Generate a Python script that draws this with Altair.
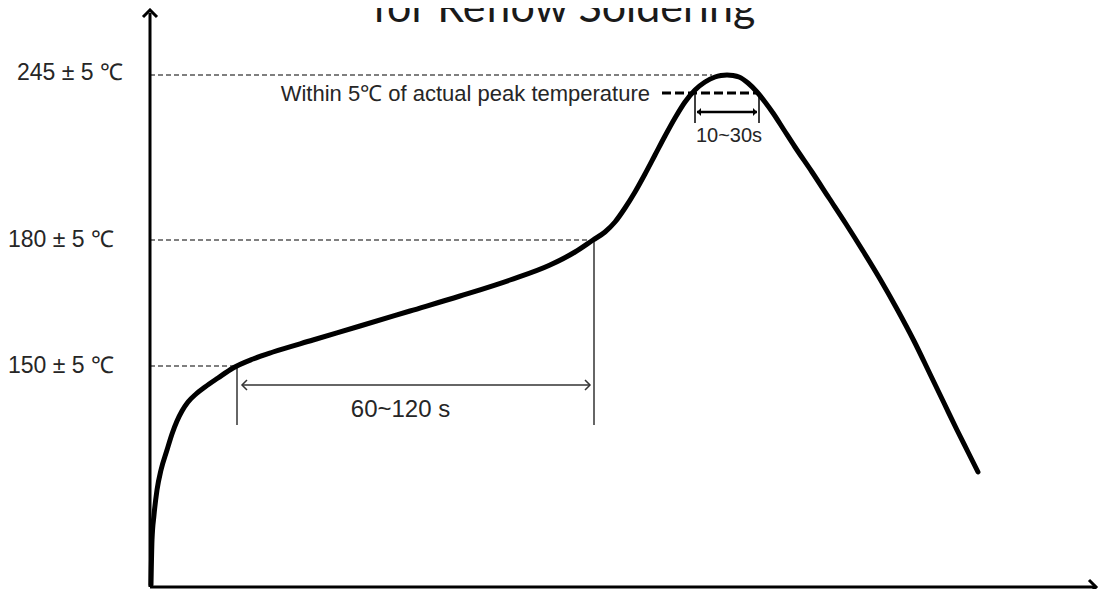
import altair as alt
import pandas as pd

# ---- data (time units from origin, temperature-level units above the x-axis) ----
curve_t = [1, 2, 4, 7, 11, 17, 22, 27, 32, 38, 46, 55, 68, 83, 103, 123, 163, 210, 260, 310,
           360, 400, 425, 443, 455, 465, 475, 485, 495, 505, 515, 525, 535, 545, 555, 565, 571, 577,
           583, 589, 598, 607, 615, 623, 634, 645, 662, 679, 696, 713, 730, 747, 764, 780, 794, 807,
           818, 828]
curve_v = [2, 47, 72, 97, 117, 137, 153, 166, 176, 185, 193, 200, 209, 219, 228, 235, 247, 261, 276, 291,
           307, 322, 335, 347, 355, 365, 379, 395, 413, 432, 451, 469, 485, 497, 505, 510, 511.5, 512,
           511.5, 510, 504, 495, 485, 474, 457, 440, 415, 389, 363, 336, 308, 278, 246, 213, 184, 157,
           135, 115]

level_labels = ["245 ± 5 ℃", "180 ± 5 ℃", "150 ± 5 ℃"]
level_label_t = [-133, -142, -142]
level_label_v = [514, 347, 221]
level_v = [512, 347, 221]
level_end_t = [562, 443, 87]

soak_t = [87, 444]          # start / end of 60~120 s window
soak_bottom_v = 162
soak_arrow_v = 202
soak_arrow_t = [92, 440]
soak_label = "60~120 s"

peak_band_t = [512, 608]
peak_band_v = 494
peak_tick_t = [545, 609]
peak_tick_bottom_v = 464
peak_arrow_v = 475
peak_arrow_t = [547, 607]
peak_note = "Within 5℃ of actual peak temperature"
peak_label = "10~30s"

title_text = "for Reflow Soldering"

X_DOMAIN = [-142, 949]
Y_DOMAIN = [-2, 579]

xs = alt.Scale(domain=X_DOMAIN, nice=False, zero=False)
ys = alt.Scale(domain=Y_DOMAIN, nice=False, zero=False)


def X(f="t"):
    return alt.X(f"{f}:Q", scale=xs, axis=None)


def Y(f="v"):
    return alt.Y(f"{f}:Q", scale=ys, axis=None)


INK = "#000000"
TXT = "#262626"
FONT = "Liberation Sans"

# axes
axes_df = pd.DataFrame({"t": [0, 0], "t2": [0, 944], "v": [0, 0], "v2": [574, 0]})
axes = alt.Chart(axes_df).mark_rule(color=INK, strokeWidth=3).encode(
    x=X(), x2="t2:Q", y=Y(), y2="v2:Q")

up_df = pd.DataFrame({"t": [0], "v": [577]})
up_arrow = alt.Chart(up_df).mark_point(
    shape="M-1,1L0,0L1,1", size=196, filled=False, color=INK, strokeWidth=3, opacity=1
).encode(x=X(), y=Y())
right_df = pd.DataFrame({"t": [946], "v": [0]})
right_arrow = alt.Chart(right_df).mark_point(
    shape="M-1,-1L0,0L-1,1", size=196, filled=False, color=INK, strokeWidth=3, opacity=1
).encode(x=X(), y=Y())

# curve
curve_df = pd.DataFrame({"t": curve_t, "v": curve_v, "o": list(range(len(curve_t)))})
curve = alt.Chart(curve_df).mark_line(color=INK, strokeWidth=5, strokeCap="round",
                                      strokeJoin="round", interpolate="monotone").encode(
    x=X(), y=Y(), order="o:Q")

# level dashed lines + labels
lvl_df = pd.DataFrame({"t": [0, 0, 0], "t2": level_end_t, "v": level_v})
levels = alt.Chart(lvl_df).mark_rule(color=INK, strokeWidth=1.2, strokeDash=[5, 3]).encode(
    x=X(), x2="t2:Q", y=Y())
lbl_df = pd.DataFrame({"t": level_label_t, "v": level_label_v, "s": level_labels})
level_text = alt.Chart(lbl_df).mark_text(
    align="left", baseline="middle", font=FONT, fontSize=23, color=TXT
).encode(x=X(), y=Y(), text="s:N")

# soak window
soak_df = pd.DataFrame({"t": soak_t, "v": [level_v[2], level_v[1]], "v2": [soak_bottom_v] * 2})
soak_lines = alt.Chart(soak_df).mark_rule(color="#333333", strokeWidth=1.5).encode(
    x=X(), y=Y(), y2="v2:Q")
soak_arrow_df = pd.DataFrame({"t": [soak_arrow_t[0]], "t2": [soak_arrow_t[1]], "v": [soak_arrow_v]})
soak_arrow = alt.Chart(soak_arrow_df).mark_rule(color="#333333", strokeWidth=1.5).encode(
    x=X(), x2="t2:Q", y=Y())
soak_heads_l = alt.Chart(pd.DataFrame({"t": [soak_arrow_t[0]], "v": [soak_arrow_v]})).mark_point(
    shape="M1,-1L0,0L1,1", size=100, filled=False, color="#333333", strokeWidth=1.5, opacity=1
).encode(x=X(), y=Y())
soak_heads_r = alt.Chart(pd.DataFrame({"t": [soak_arrow_t[1]], "v": [soak_arrow_v]})).mark_point(
    shape="M-1,-1L0,0L-1,1", size=100, filled=False, color="#333333", strokeWidth=1.5, opacity=1
).encode(x=X(), y=Y())
soak_text = alt.Chart(pd.DataFrame({"t": [sum(soak_t) / 2 - 15], "v": [177], "s": [soak_label]})).mark_text(
    align="center", baseline="middle", font=FONT, fontSize=24, color=TXT
).encode(x=X(), y=Y(), text="s:N")

# peak zone
band_df = pd.DataFrame({"t": [peak_band_t[0]], "t2": [peak_band_t[1]], "v": [peak_band_v]})
band = alt.Chart(band_df).mark_rule(color=INK, strokeWidth=3, strokeDash=[9, 4]).encode(
    x=X(), x2="t2:Q", y=Y())
note = alt.Chart(pd.DataFrame({"t": [500], "v": [486], "s": [peak_note]})).mark_text(
    align="right", baseline="alphabetic", font=FONT, fontSize=22, color=TXT
).encode(x=X(), y=Y(), text="s:N")
ticks_df = pd.DataFrame({"t": peak_tick_t, "v": [peak_band_v] * 2, "v2": [peak_tick_bottom_v] * 2})
ticks = alt.Chart(ticks_df).mark_rule(color=INK, strokeWidth=1.5).encode(x=X(), y=Y(), y2="v2:Q")
parrow_df = pd.DataFrame({"t": [peak_arrow_t[0]], "t2": [peak_arrow_t[1]], "v": [peak_arrow_v]})
parrow = alt.Chart(parrow_df).mark_rule(color=INK, strokeWidth=2.5).encode(x=X(), x2="t2:Q", y=Y())
ph_l = alt.Chart(pd.DataFrame({"t": [peak_arrow_t[0]], "v": [peak_arrow_v]})).mark_point(
    shape="M1,-1L0,0L1,1Z", size=64, filled=True, color=INK, opacity=1).encode(x=X(), y=Y())
ph_r = alt.Chart(pd.DataFrame({"t": [peak_arrow_t[1]], "v": [peak_arrow_v]})).mark_point(
    shape="M-1,-1L0,0L-1,1Z", size=64, filled=True, color=INK, opacity=1).encode(x=X(), y=Y())
plabel = alt.Chart(pd.DataFrame({"t": [579], "v": [445], "s": [peak_label]})).mark_text(
    align="center", baseline="alphabetic", font=FONT, fontSize=20, color=TXT
).encode(x=X(), y=Y(), text="s:N")

# partially visible title
title = alt.Chart(pd.DataFrame({"t": [414], "v": [565], "s": [title_text]})).mark_text(
    align="center", baseline="alphabetic", font="Lato", fontSize=43, color="#1a1a1a"
).encode(x=X(), y=Y(), text="s:N")

chart = alt.layer(
    title, levels, soak_lines, soak_arrow, soak_heads_l, soak_heads_r, soak_text,
    band, note, ticks, parrow, ph_l, ph_r, plabel, level_text,
    axes, up_arrow, right_arrow, curve
).properties(
    width=1091, height=581, padding=0, autosize=alt.AutoSizeParams(type="none")
).configure_view(stroke="transparent", strokeWidth=0)

chart.save("out.html", embed_options={"renderer": "svg", "actions": False})
